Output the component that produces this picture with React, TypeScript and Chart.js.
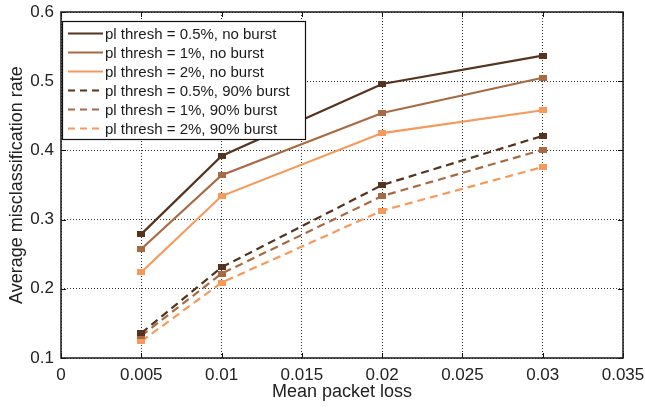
import React, { useEffect, useRef } from 'react';
import { Chart, registerables } from 'chart.js';

Chart.register(...registerables);

const W = 645;
const H = 411;
const FONT = "'Liberation Sans', Arial, Helvetica, sans-serif";

const xValues = [0.005, 0.01, 0.02, 0.03];
const xTicks = [0, 0.005, 0.01, 0.015, 0.02, 0.025, 0.03, 0.035];
const yTicks = [0.1, 0.2, 0.3, 0.4, 0.5, 0.6];

const seriesLabels = [
  'pl thresh = 0.5%, no burst',
  'pl thresh = 1%, no burst',
  'pl thresh = 2%, no burst',
  'pl thresh = 0.5%, 90% burst',
  'pl thresh = 1%, 90% burst',
  'pl thresh = 2%, 90% burst',
];

const noBurst05 = [0.279, 0.392, 0.496, 0.537];
const noBurst1 = [0.2575, 0.364, 0.454, 0.505];
const noBurst2 = [0.224, 0.334, 0.425, 0.458];
const burst05 = [0.136, 0.231, 0.35, 0.421];
const burst1 = [0.132, 0.222, 0.334, 0.401];
const burst2 = [0.124, 0.209, 0.313, 0.376];

const DARK = '#55331f';
const MID = '#a86a43';
const LIGHT = '#f6995b';

const fmt = (v: number) => String(parseFloat(Number(v).toFixed(4)));

function makeMarker(color: string) {
  const c = document.createElement('canvas');
  c.width = 8;
  c.height = 6;
  const g = c.getContext('2d')!;
  g.fillStyle = color;
  g.fillRect(0, 0, 8, 6);
  return c;
}

export default function App() {
  const ref = useRef<HTMLCanvasElement>(null);

  useEffect(() => {
    const canvas = ref.current!;
    const defs = [
      { data: noBurst05, color: DARK, dash: [] as number[] },
      { data: noBurst1, color: MID, dash: [] as number[] },
      { data: noBurst2, color: LIGHT, dash: [] as number[] },
      { data: burst05, color: DARK, dash: [8, 5] },
      { data: burst1, color: MID, dash: [8, 5] },
      { data: burst2, color: LIGHT, dash: [8, 5] },
    ];

    const datasets = defs.map((d, i) => ({
      label: seriesLabels[i],
      data: xValues.map((x, j) => ({ x, y: d.data[j] })),
      borderColor: d.color,
      backgroundColor: d.color,
      borderWidth: 2.2,
      borderDash: d.dash,
      pointStyle: makeMarker(d.color) as any,
      pointRadius: 4,
      showLine: true,
      fill: false,
      tension: 0,
    }));

    const boxPlugin = {
      id: 'matlabBox',
      afterDraw(chart: any) {
        const { ctx, chartArea: a, scales } = chart;
        ctx.save();
        ctx.setLineDash([]);
        ctx.strokeStyle = '#111';
        ctx.lineWidth = 1;
        const line = (x1: number, y1: number, x2: number, y2: number) => {
          ctx.beginPath();
          ctx.moveTo(x1, y1);
          ctx.lineTo(x2, y2);
          ctx.stroke();
        };
        xTicks.forEach((v) => {
          const px = Math.round(scales.x.getPixelForValue(v)) + 0.5;
          line(px, a.bottom, px, a.bottom - 5);
          line(px, a.top, px, a.top + 5);
        });
        yTicks.forEach((v) => {
          const py = Math.round(scales.y.getPixelForValue(v)) + 0.5;
          line(a.left, py, a.left + 5, py);
          line(a.right, py, a.right - 5, py);
        });
        ctx.lineWidth = 1.5;
        ctx.strokeStyle = '#1a1a1a';
        ctx.strokeRect(a.left, a.top, a.right - a.left, a.bottom - a.top);

        // legend
        const lx = 62.5, ly = 21.5, lw = 243, lh = 118;
        ctx.fillStyle = '#fff';
        ctx.fillRect(lx, ly, lw, lh);
        ctx.lineWidth = 1.2;
        ctx.strokeStyle = '#111';
        ctx.strokeRect(lx, ly, lw, lh);
        ctx.font = `15px ${FONT}`;
        ctx.textBaseline = 'middle';
        ctx.textAlign = 'left';
        defs.forEach((d, i) => {
          const y = 33.5 + i * 19;
          ctx.strokeStyle = d.color;
          ctx.lineWidth = 2;
          ctx.setLineDash(d.dash.length ? [7, 5] : []);
          line(68, y, 103, y);
          ctx.setLineDash([]);
          ctx.fillStyle = '#1a1a1a';
          ctx.fillText(seriesLabels[i], 105, y + 1);
        });
        ctx.restore();
      },
    };

    const chart = new Chart(canvas, {
      type: 'line',
      data: { datasets: datasets as any },
      options: {
        responsive: false,
        devicePixelRatio: 1,
        animation: false,
        layout: { padding: { top: 12, right: 22, left: 0, bottom: 0 } },
        plugins: { legend: { display: false }, tooltip: { enabled: false } },
        scales: {
          x: {
            type: 'linear',
            min: 0,
            max: 0.035,
            afterBuildTicks: (s: any) => {
              s.ticks = xTicks.map((v) => ({ value: v }));
            },
            afterFit: (s: any) => {
              s.height = 53;
              s.paddingLeft = 0;
              s.paddingRight = 0;
              s.paddingTop = 0;
              s.paddingBottom = 0;
            },
            ticks: {
              callback: (v: any) => fmt(v),
              font: { family: FONT, size: 17 },
              color: '#222',
              padding: 7,
              maxRotation: 0,
              autoSkip: false,
            },
            grid: { color: '#333', lineWidth: 1, drawTicks: false },
            border: { display: false, dash: [1, 2] },
            title: {
              display: true,
              text: 'Mean packet loss',
              font: { family: FONT, size: 18 },
              color: '#222',
              padding: { top: 0, bottom: 8 },
            },
          },
          y: {
            type: 'linear',
            min: 0.1,
            max: 0.6,
            afterBuildTicks: (s: any) => {
              s.ticks = yTicks.map((v) => ({ value: v }));
            },
            afterFit: (s: any) => {
              s.width = 61;
              s.paddingLeft = 0;
              s.paddingRight = 0;
              s.paddingTop = 0;
              s.paddingBottom = 0;
            },
            ticks: {
              callback: (v: any) => fmt(v),
              font: { family: FONT, size: 17 },
              color: '#222',
              padding: 7,
              autoSkip: false,
            },
            grid: { color: '#333', lineWidth: 1, drawTicks: false },
            border: { display: false, dash: [1, 2] },
            title: {
              display: true,
              text: 'Average misclassification rate',
              font: { family: FONT, size: 18 },
              color: '#222',
              padding: { top: 6, bottom: 0 },
            },
          },
        },
      },
      plugins: [boxPlugin],
    });

    return () => chart.destroy();
  }, []);

  return (
    <div style={{ position: 'fixed', left: 0, top: 0, width: W, height: H, background: '#fff' }}>
      <canvas ref={ref} width={W} height={H} style={{ width: W, height: H, display: 'block' }} />
    </div>
  );
}
